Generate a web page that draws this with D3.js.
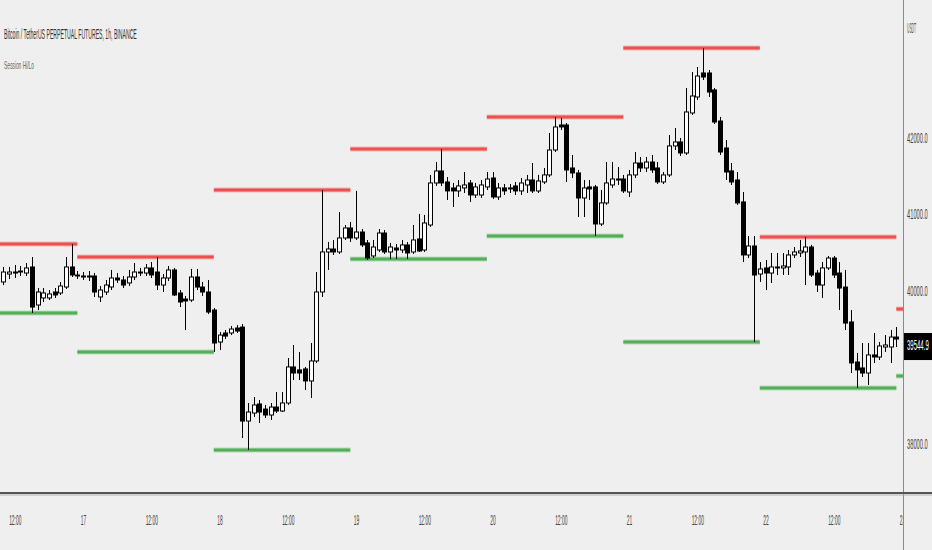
<!DOCTYPE html>
<html><head><meta charset="utf-8">
<script src="https://cdn.jsdelivr.net/npm/d3@7"></script>
<style>body{margin:0;background:#efefef}svg{display:block}</style>
</head><body><svg id="c" width="932" height="550"></svg>
<script>
// ---- data (hourly candles, first one = 2022-04-16 10:00 UTC) ----
const firstCandle = "2022-04-16T10:00:00Z";
const open = [
40105,40209,40235,40235,40222,40301,39804,39896,39896,39974,39961,40039,40301,40196,
40183,40183,40183,39909,39974,40039,40157,40131,40092,40170,40235,40222,40288,40235,40065,40157,40262,39961,39882,39869,40170,40039,39974,39738,
39320,39438,39438,39503,39516,38287,38392,38510,38444,38366,38470,38418,38523,38994,38955,38968,38811,39072,39974,40497,40536,40497,40680,40811,
40680,40758,40615,40445,40523,40745,40497,40549,40523,40589,40497,40667,40523,40850,41399,41556,41412,41334,41295,41334,41399,41242,41242,41347,
41464,41216,41334,41321,41360,41295,41373,41438,41295,41412,41504,41830,42157,42157,41595,41530,41203,41347,41347,40863,41138,41373,41451,41451,
41281,41504,41660,41595,41673,41595,41412,41504,41883,41935,41791,42314,42523,42837,42837,42615,42209,41856,41556,41438,41151,40458,40575,40209,
40288,40222,40301,40288,40301,40458,40484,40497,40562,40222,40065,40288,40418,40222,40039,39582,39059,38981,38915,39151,39124,39255,39255,39385];
const high = [
40301,40301,40327,40314,40353,40431,40026,40026,40000,40026,40105,40431,40601,40248,
40235,40248,40222,40052,40131,40262,40222,40183,40262,40353,40288,40340,40366,40431,40209,40314,40288,40000,39922,40275,40275,40105,40131,39764,
39451,39477,39529,39542,39555,38523,38601,38562,38497,38523,38667,38667,39111,39281,39190,38994,39307,40235,41307,40628,40654,41020,40850,40889,
41295,40797,40654,40654,40797,40784,40615,40601,40654,40628,40850,40994,40981,41504,41673,41843,41477,41399,41438,41543,41438,41399,41438,41543,
41543,41399,41386,41386,41412,41464,41504,41660,41504,41595,42052,42262,42249,42183,41765,41569,41438,41438,41373,41307,41673,41673,41608,41504,
41569,41804,41739,41739,41765,41673,41543,42026,42118,41987,42641,42850,42915,43164,42876,42641,42262,41961,41660,41543,41281,40706,40706,40366,
40392,40484,40484,40484,40523,40562,40654,40693,40589,40262,40366,40445,40445,40366,40262,39738,39177,39307,39307,39438,39320,39411,39477,39516];
const low = [
40065,40144,40157,40183,40183,39699,39738,39843,39869,39896,39935,40013,40170,40144,
40131,40118,39909,39843,39935,40000,40092,40026,40052,40131,40183,40183,40157,40000,39974,40118,39922,39777,39477,39843,40000,39922,39686,39190,
39216,39359,39411,39438,38065,37909,38340,38261,38327,38301,38392,38405,38497,38824,38824,38693,38588,39046,39909,40262,40458,40471,40654,40628,
40654,40562,40392,40418,40497,40471,40405,40405,40484,40405,40471,40497,40497,40824,41360,41360,41177,41085,41216,41268,41151,41203,41203,41307,
41190,41177,41242,41268,41242,41242,41268,41268,41268,41386,41477,41804,42092,41412,41464,40954,40954,41177,40706,40837,41112,41334,41373,41268,
41216,41464,41543,41543,41530,41386,41386,41477,41830,41752,41765,42288,42484,42745,42523,42170,41765,41438,41373,41112,40366,40418,39320,40105,
40000,40092,40196,40196,40196,40418,40431,40065,40170,39974,39896,40262,40157,39738,39477,38915,38719,38863,38759,39046,39085,39190,39046,39255];
const close = [
40235,40235,40222,40248,40288,39777,39974,39961,39948,39935,40052,40301,40196,40183,
40170,40170,39974,40000,40065,40157,40131,40065,40170,40235,40222,40288,40196,40065,40157,40262,39935,39843,39856,40170,40039,39974,39712,39307,
39411,39398,39490,39464,38287,38405,38497,38405,38366,38470,38418,38523,38994,38915,38915,38811,39072,39974,40497,40536,40497,40680,40811,40680,
40758,40589,40418,40562,40745,40497,40562,40523,40589,40484,40654,40510,40876,41399,41556,41399,41295,41295,41360,41373,41242,41347,41373,41451,
41216,41334,41295,41334,41295,41399,41438,41295,41425,41504,41830,42131,42131,41569,41530,41203,41334,41321,40863,41138,41399,41451,41438,41295,
41504,41660,41595,41673,41569,41412,41504,41883,41935,41791,42327,42536,42797,42784,42588,42196,41804,41543,41412,41138,40458,40575,40196,40275,
40222,40301,40288,40314,40458,40497,40510,40562,40196,40065,40288,40418,40196,40026,39568,39046,38955,38915,39151,39124,39268,39281,39385,39359];

// session (daily) high / low levels
const sessionDays  = ["2022-04-16","2022-04-17","2022-04-18","2022-04-19","2022-04-20","2022-04-21","2022-04-22","2022-04-23"];
const sessionHigh  = [40601, 40432, 41307, 41843, 42262, 43164, 40693, 39752];
const sessionLow   = [39700, 39190, 37909, 40405, 40706, 39320, 38719, 38876];

const priceTicks = [38000, 40000, 41000, 42000];
const lastPriceLabel = "39544.9";
const currencyLabel = "USDT";
const titleText = "Bitcoin / TetherUS PERPETUAL FUTURES, 1h, BINANCE";
const indicatorText = "Session Hi/Lo";

// ---- layout ----
const W = 932, H = 550, plotR = 903, plotB = 493;
const svg = d3.select("#c");
svg.append("rect").attr("width", W).attr("height", H).attr("fill", "#efefef");

const t0 = d3.isoParse(firstCandle);
const times = d3.utcHour.range(t0, d3.utcHour.offset(t0, open.length));
const anchor = Date.UTC(2022, 3, 17), pxH = 5.6875, hr = 3600000;
const x = d3.scaleUtc()
  .domain([new Date(anchor - 83 / pxH * hr), new Date(anchor + (plotR - 83) / pxH * hr)])
  .range([0, plotR]);
const y = d3.scaleLinear().domain([38000, 42000]).range([443, 137]);

const defs = svg.append("defs");
defs.append("clipPath").attr("id", "plot").append("rect").attr("width", plotR).attr("height", plotB);
defs.append("clipPath").attr("id", "xax").append("rect").attr("width", plotR).attr("height", H);

const font = "'Liberation Sans', Arial, sans-serif";
// horizontally condense a text around its own x anchor
function squeeze(sel, f) {
  sel.each(function () {
    const t = d3.select(this);
    const x0 = +t.attr("x") || 0;
    t.attr("transform", `translate(${x0 * (1 - f)},0) scale(${f},1)`);
  });
}
function fitWidth(sel, w) {
  sel.each(function () {
    const f = w / this.getComputedTextLength();
    squeeze(d3.select(this), f);
  });
}

// ---- session lines ----
const g = svg.append("g").attr("clip-path", "url(#plot)");
const sessions = sessionDays.map((d, i) => ({ day: d3.isoParse(d + "T00:00:00Z"), hi: sessionHigh[i], lo: sessionLow[i] }));
function sessLine(val, col) {
  const sel = g.append("g").selectAll("g").data(sessions).join("g");
  sel.append("line")
    .attr("x1", d => x(d3.utcHour.offset(d.day, -1))).attr("x2", d => x(d3.utcHour.offset(d.day, 23)))
    .attr("y1", d => y(d[val])).attr("y2", d => y(d[val]))
    .attr("stroke", col).attr("stroke-width", 5).attr("stroke-opacity", 0.3);
  sel.append("line")
    .attr("x1", d => x(d3.utcHour.offset(d.day, -1))).attr("x2", d => x(d3.utcHour.offset(d.day, 23)))
    .attr("y1", d => y(d[val])).attr("y2", d => y(d[val]))
    .attr("stroke", col).attr("stroke-width", 3).attr("stroke-opacity", 0.85);
}
sessLine("hi", "#f03c3c");
sessLine("lo", "#3fa645");

// ---- candles ----
const candles = times.map((t, i) => ({ t, o: open[i], h: high[i], l: low[i], c: close[i] }));
const cg = g.append("g").selectAll("g").data(candles).join("g");
cg.append("line")
  .attr("x1", d => Math.round(x(d.t)) + 0.5).attr("x2", d => Math.round(x(d.t)) + 0.5)
  .attr("y1", d => y(d.h)).attr("y2", d => y(d.l))
  .attr("stroke", "#000").attr("stroke-width", 1);
cg.append("rect")
  .attr("x", d => Math.round(x(d.t)) - 1.5)
  .attr("width", 4)
  .attr("y", d => y(Math.max(d.o, d.c)))
  .attr("height", d => Math.max(1, Math.abs(y(d.o) - y(d.c))))
  .attr("fill", d => d.c >= d.o ? "#ffffff" : "#000000")
  .attr("stroke", "#000").attr("stroke-width", 1);

// ---- frame lines ----
svg.append("line").attr("x1", plotR + 0.5).attr("x2", plotR + 0.5).attr("y1", 0).attr("y2", H)
  .attr("stroke", "#8a8a8a").attr("stroke-width", 1);
svg.append("line").attr("x1", 0).attr("x2", W).attr("y1", plotB).attr("y2", plotB)
  .attr("stroke", "#555").attr("stroke-width", 2);
svg.append("line").attr("x1", 0).attr("x2", W).attr("y1", plotB + 2).attr("y2", plotB + 2)
  .attr("stroke", "#b0b0b0").attr("stroke-width", 1);

// ---- price axis ----
const ya = svg.append("g").attr("transform", `translate(${plotR + 4},0)`)
  .call(d3.axisRight(y).tickValues(priceTicks).tickSize(0).tickFormat(d3.format(".1f")));
ya.select(".domain").remove();
ya.selectAll("text").attr("x", 0).attr("dy", "0.36em").attr("font-size", 14)
  .attr("font-family", font).attr("fill", "#444").attr("text-anchor", "start").call(squeeze, 0.41);

// ---- time axis ----
const xa = svg.append("g").attr("clip-path", "url(#xax)").append("g").attr("transform", `translate(0,${plotB})`)
  .call(d3.axisBottom(x).ticks(d3.utcHour.every(12)).tickSize(0)
    .tickFormat(d => d.getUTCHours() === 0 ? String(d.getUTCDate()) : "12:00"));
xa.select(".domain").remove();
xa.selectAll("text").attr("y", 32).attr("dy", 0).attr("font-size", 14)
  .attr("font-family", font).attr("fill", "#444").call(squeeze, 0.35);

// ---- last price tag ----
const lastC = close[close.length - 1];
const yc = y(lastC);
svg.append("rect").attr("x", plotR + 1).attr("y", yc - 6).attr("width", W - plotR - 1).attr("height", 27).attr("fill", "#000");
svg.append("text").attr("x", 907).attr("y", yc + 11).attr("font-size", 14).attr("font-family", font)
  .attr("fill", "#fff").text(lastPriceLabel).call(squeeze, 0.43);

// ---- currency ----
svg.append("text").attr("x", 907).attr("y", 33).attr("font-size", 15).attr("font-family", font)
  .attr("fill", "#555").text(currencyLabel).call(squeeze, 0.22);

// ---- titles ----
svg.append("text").attr("x", 4).attr("y", 39).attr("font-size", 14).attr("font-family", font)
  .attr("fill", "#333").text(titleText).call(fitWidth, 133);
svg.append("text").attr("x", 4).attr("y", 69).attr("font-size", 10).attr("font-family", font)
  .attr("fill", "#666").text(indicatorText).call(fitWidth, 30);
</script></body></html>
